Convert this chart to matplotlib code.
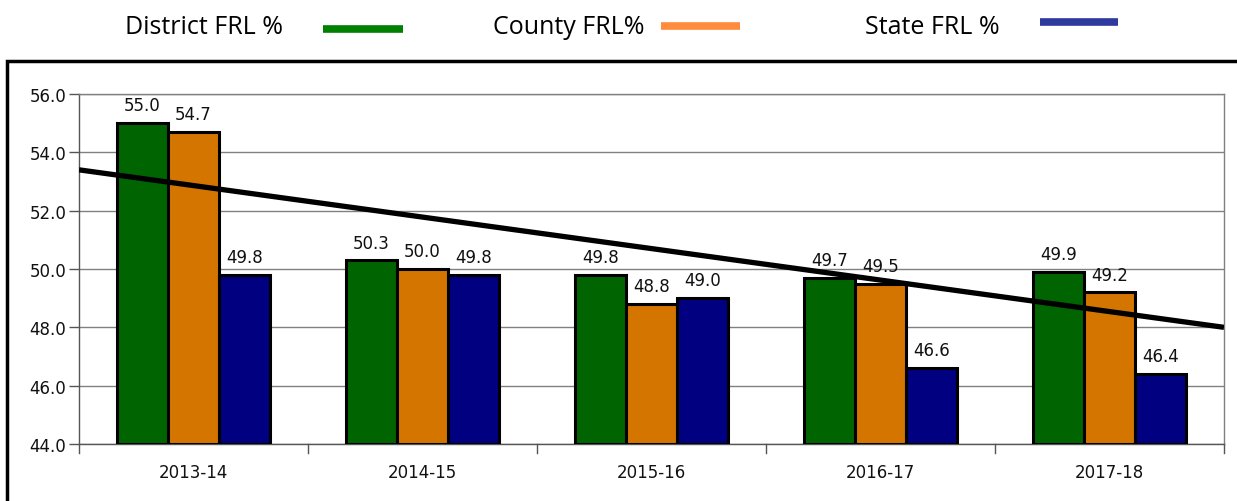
import matplotlib
matplotlib.use("Agg")
import matplotlib.pyplot as plt
from matplotlib.patches import Rectangle
from matplotlib.lines import Line2D
import numpy as np

categories = ["2013-14", "2014-15", "2015-16", "2016-17", "2017-18"]
district = [55.0, 50.3, 49.8, 49.7, 49.9]
county = [54.7, 50.0, 48.8, 49.5, 49.2]
state = [49.8, 49.8, 49.0, 46.6, 46.4]
trend_ends = [53.4, 48.0]   # trend line value at left and right edge
yticks = [44.0, 46.0, 48.0, 50.0, 52.0, 54.0, 56.0]

series = [("District FRL %", district, "#006400", "#008000"),
          ("County FRL%", county, "#D47500", "#FF8C3C"),
          ("State FRL %", state, "#000080", "#2E3A9E")]

W, H = 1237, 502
fig = plt.figure(figsize=(W / 100, H / 100), dpi=100)
ax = fig.add_axes([79 / W, 1 - 445 / H, (1224 - 79) / W, 350 / H])

x = np.arange(len(categories))
bw = 0.223
for i, (name, vals, col, _) in enumerate(series):
    pos = x + (i - 1) * bw
    ax.bar(pos, [v - 44 for v in vals], bottom=44, width=bw, color=col,
           edgecolor="black", linewidth=2.2, zorder=3)
    for p, v in zip(pos, vals):
        ax.text(p, v + 0.3, f"{v:.1f}", ha="center", va="bottom",
                fontsize=12, family="DejaVu Sans", color="#111111", zorder=5)

ax.plot([-0.5, len(categories) - 0.5], trend_ends, color="black", lw=3.8,
        zorder=4, solid_capstyle="butt")

ax.set_xlim(-0.5, len(categories) - 0.5)
ax.set_ylim(44, 56)
ax.set_yticks(yticks)
ax.set_yticklabels([f"{t:.1f}" for t in yticks], fontsize=12,
                   family="DejaVu Sans", color="#111111")
ax.set_xticks(x)
ax.set_xticklabels(categories, fontsize=12, family="DejaVu Sans", color="#111111")
ax.tick_params(axis="x", length=0, pad=14)
ax.tick_params(axis="y", length=7, width=1, color="#555555", pad=2)
# category boundary ticks
for b in np.arange(-0.5, len(categories), 1.0):
    ax.plot([b, b], [44, 43.7], color="#555555", lw=1, clip_on=False, zorder=2)
ax.grid(axis="y", color="#808080", lw=1, zorder=0)
for s in ax.spines.values():
    s.set_color("#808080")
    s.set_linewidth(1)
ax.spines["bottom"].set_color("#555555")
ax.spines["left"].set_color("#555555")

# outer frame
fig.patches.append(Rectangle((7 / W, -0.1), 1.2, (1 - 62 / H) + 0.1,
                             transform=fig.transFigure, fill=False,
                             edgecolor="black", linewidth=2.5))

# legend
leg_font = ["Open Sans", "DejaVu Sans"]
legend_items = [(125, 323, 403, 30), (493, 661, 740, 27), (865, 1040, 1118, 23)]
for (name, _, _, lcol), (tx, sx0, sx1, sy) in zip(series, legend_items):
    fig.text(tx / W, 1 - 27 / H, name, fontsize=18, family=leg_font,
             ha="left", va="center", color="black")
    fig.lines.append(Line2D([sx0 / W, sx1 / W], [1 - sy / H, 1 - sy / H],
                            transform=fig.transFigure, color=lcol, lw=5.5,
                            solid_capstyle="butt"))

fig.savefig("out.png", dpi=100)
